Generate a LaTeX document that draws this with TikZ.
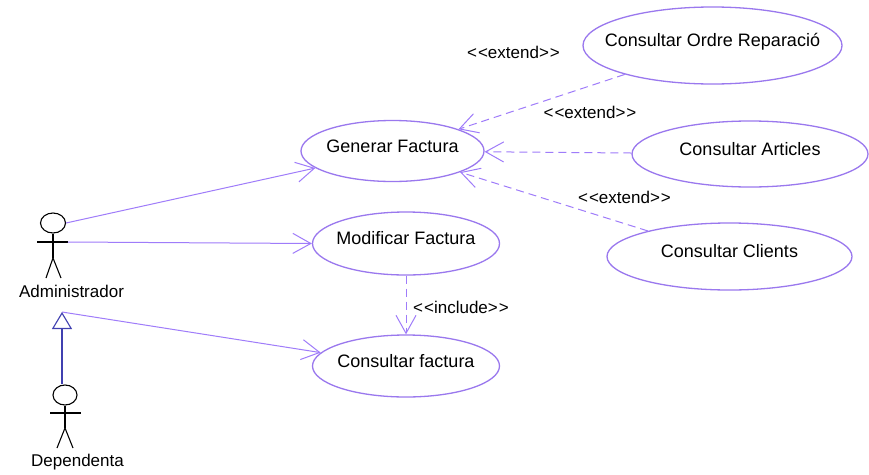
\documentclass[tikz,border=0pt]{standalone}
\usepackage{fontspec}
\setmainfont{Liberation Sans}
\usetikzlibrary{arrows.meta,shapes.geometric}
\definecolor{uclineC}{HTML}{9F7CFA}
\definecolor{ucellC}{HTML}{9A78EE}
\definecolor{genC}{HTML}{4040B0}
\newcommand\uctxt[1]{\makebox[0pt]{\smash{\raisebox{-1pt}{#1}}}}
\newcommand\stereo[1]{<\kern1pt<#1>\kern1pt>}
\begin{document}
\begin{tikzpicture}[x=1pt,y=-1pt,
  uc/.style={ellipse, draw=ucellC, line width=1.3pt, fill=white, inner sep=0pt,
    font=\fontsize{18}{21}\selectfont},
  assoc/.style={draw=uclineC, line width=1pt,
    -{Straight Barb[length=18pt,width=20pt,line width=1pt]}},
  dep/.style={assoc, dash pattern=on 8pt off 5pt},
  lbl/.style={font=\fontsize{17}{20}\selectfont, inner sep=0pt},
  gen/.style={draw=genC, line width=1.1pt,
    -{Triangle[open,length=17pt,width=20pt,line width=1.1pt]}},
  actorhead/.style={ellipse, draw=black, line width=1.1pt, fill=white, inner sep=0pt,
    minimum width=25pt, minimum height=20pt},
  actorbody/.style={draw=black, line width=1.1pt}
]
\fill[white] (0,0) rectangle (869,474);
\useasboundingbox (0,0) rectangle (869,474);

% use cases
\node[uc, minimum width=183pt, minimum height=61pt] (gf)  at (392.5,151) {\uctxt{Generar Factura}};
\node[uc, minimum width=187pt, minimum height=63pt] (mf)  at (406,243.5) {\uctxt{Modificar Factura}};
\node[uc, minimum width=187pt, minimum height=62pt] (cf)  at (406,366) {\uctxt{Consultar factura}};
\node[uc, minimum width=259pt, minimum height=77pt] (cor) at (712.5,45.5) {\uctxt{Consultar Ordre Reparació}};
\node[uc, minimum width=236pt, minimum height=66pt] (ca)  at (750,154) {\uctxt{Consultar Articles}};
\node[uc, minimum width=245pt, minimum height=67pt] (cc)  at (729.5,256.5) {\uctxt{Consultar Clients}};

% actor Administrador
\node[actorhead] (admhead) at (53,223) {};
\draw[actorbody] (admhead.south) -- (53,258);
\draw[actorbody] (37,242) -- (68,242);
\draw[actorbody] (46,278) -- (53,258) -- (61,278);
\coordinate (admarm) at (68,242);
\coordinate (admgen) at (62,312);
\node[lbl] (admlbl) at (71.5,291) {Administrador};

% actor Dependenta
\node[actorhead, minimum width=24pt] (dephead) at (65,395) {};
\draw[actorbody] (dephead.south) -- (65,428);
\draw[actorbody] (50,413) -- (81,413);
\draw[actorbody] (57,448) -- (65,428) -- (73,448);
\node[lbl] (deplbl) at (77.5,462) {Dependenta};

% associations
\draw[assoc] (admhead.east) -- (gf);
\draw[assoc] (admarm) -- (mf.west);
\draw[assoc] (admgen) -- (cf);

% generalization
\draw[gen] (admgen |- dephead.north) -- (admgen);

% extend / include
\draw[dep] (cor) -- (gf);
\draw[dep] (ca) -- (gf);
\draw[dep] (cc) -- (gf);
\draw[dep] (mf.south) -- (cf.north);

\node[lbl] (ext1) at (513.5,52) {\stereo{extend}};
\node[lbl] (ext2) at (590,112) {\stereo{extend}};
\node[lbl] (ext3) at (624.5,197) {\stereo{extend}};
\node[lbl] (inc)  at (461,307) {\stereo{include}};
\end{tikzpicture}
\end{document}
